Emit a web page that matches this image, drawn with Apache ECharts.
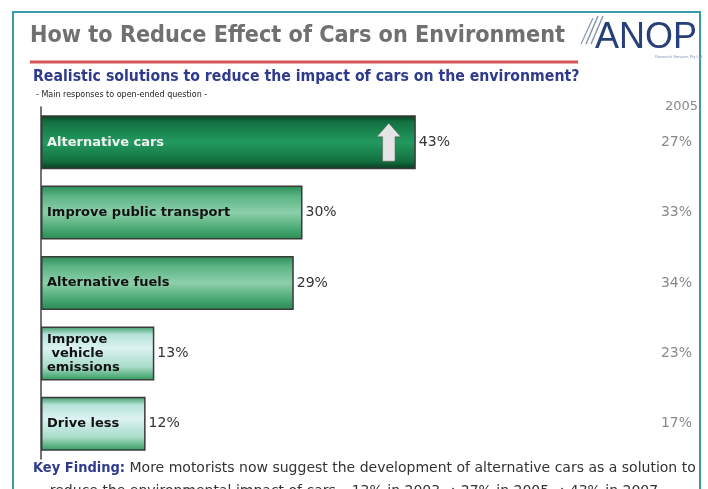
<!DOCTYPE html>
<html><head><meta charset="utf-8">
<script src="https://cdn.jsdelivr.net/npm/echarts@6/dist/echarts.min.js"></script>
<style>html,body{margin:0;padding:0;background:#fff}#c{width:708px;height:489px}</style>
</head><body><div id="c"></div>
<script>
var categories = ['Alternative cars', 'Improve public transport', 'Alternative fuels', 'Improve\n vehicle\nemissions', 'Drive less'];
var values2007 = [43, 30, 29, 13, 12];
var values2005 = [27, 33, 34, 23, 17];
var prevYearLabel = '2005';

function grad(stops) {
  return new echarts.graphic.LinearGradient(0, 0, 0, 1, stops.map(function (s) { return { offset: s[0], color: s[1] }; }));
}
var darkG = grad([[0, '#0a3a20'], [0.12, '#137040'], [0.5, '#229a5f'], [0.85, '#137040'], [1, '#0a3a20']]);
var midG = grad([[0, '#2a8c55'], [0.2, '#5cb585'], [0.5, '#8ccfaa'], [0.85, '#3fa26a'], [1, '#2a8a53']]);
var paleG = grad([[0, '#3a9a66'], [0.15, '#b5e2d8'], [0.4, '#dcf2f2'], [0.75, '#a8dcc8'], [1, '#2f9a5c']]);
var fills = [darkG, midG, midG, paleG, paleG];
var COND = '"DejaVu Sans Condensed", "DejaVu Sans"';

var chart = echarts.init(document.getElementById('c'));
chart.setOption({
  animation: false,
  backgroundColor: '#fff',
  title: [
    { text: 'How to Reduce Effect of Cars on Environment', left: 25, top: 19, padding: 5,
      textStyle: { fontFamily: COND, fontWeight: 'bold', fontSize: 23.2, color: '#707070' } },
    { text: 'ANOP', left: 590, top: 15,
      textStyle: { fontFamily: 'Liberation Sans', fontWeight: 'normal', fontSize: 36, color: '#27407a' } },
    { text: 'Realistic solutions to reduce the impact of cars on the environment?', left: 28, top: 64,
      textStyle: { fontFamily: COND, fontWeight: 'bold', fontSize: 15.7, color: '#2e3a8c' } },
    { text: '- Main responses to open-ended question -', left: 31, top: 86,
      textStyle: { fontFamily: 'DejaVu Sans', fontWeight: 'normal', fontSize: 8, color: '#222' } },
    { text: prevYearLabel, left: 660, top: 95,
      textStyle: { fontFamily: 'DejaVu Sans', fontWeight: 'normal', fontSize: 13, color: '#888' } },
    { text: '{k|Key Finding:} More motorists now suggest the development of alternative cars as a solution to', left: 28, top: 456,
      textStyle: { fontFamily: 'DejaVu Sans', fontWeight: 'normal', fontSize: 14, color: '#333',
        rich: { k: { fontFamily: COND, fontWeight: 'bold', fontSize: 14.5, color: '#2e3a8c' } } } },
    { text: 'reduce the environmental impact of cars \u2013 13% in 2003 \u2192 27% in 2005 \u2192 43% in 2007', left: 'center', top: 479,
      textStyle: { fontFamily: 'DejaVu Sans', fontWeight: 'normal', fontSize: 14, color: '#333' } }
  ],
  graphic: [
    { type: 'rect', shape: { x: 13, y: 12, width: 687, height: 490 }, style: { fill: 'none', stroke: '#3a9aa8', lineWidth: 2 }, silent: true },
    { type: 'line', shape: { x1: 30, y1: 62, x2: 578, y2: 62 }, style: { stroke: '#d9545a', lineWidth: 3 }, silent: true },
    { type: 'text', left: 655, top: 55, style: { text: 'Research Services Pty Ltd', fontSize: 4, fill: '#8090b0' }, silent: true },
    { type: 'line', shape: { x1: 586, y1: 44, x2: 598, y2: 16 }, style: { stroke: '#8a96ae', lineWidth: 1.5 }, silent: true },
    { type: 'line', shape: { x1: 591, y1: 44, x2: 603, y2: 16 }, style: { stroke: '#8a96ae', lineWidth: 1.5 }, silent: true },
    { type: 'line', shape: { x1: 581, y1: 44, x2: 593, y2: 18 }, style: { stroke: '#8a96ae', lineWidth: 1.2 }, silent: true }
  ],
  grid: { left: 41, right: 144, top: 107, bottom: 30 },
  xAxis: { type: 'value', min: 0, max: 60, show: false },
  yAxis: [
    { type: 'category', inverse: true, data: categories,
      axisLine: { show: true, lineStyle: { color: '#444', width: 1.5 } },
      axisTick: { show: false }, axisLabel: { show: false } },
    { type: 'category', inverse: true, position: 'right', offset: 128,
      data: values2005.map(function (v) { return v + '%'; }),
      axisLine: { show: false }, axisTick: { show: false },
      axisLabel: { align: 'right', margin: 0, fontFamily: 'DejaVu Sans', fontSize: 14, color: '#888' } }
  ],
  series: [
    { type: 'bar', yAxisIndex: 0, barWidth: 54,
      data: values2007.map(function (v, i) {
        return { value: v, itemStyle: { color: fills[i] },
          label: { color: i === 0 ? '#f0f0f0' : '#111' } };
      }),
      itemStyle: { borderColor: '#3a3a3a', borderWidth: 1.5 },
      label: { show: true, position: 'insideLeft', offset: [1, 0], formatter: function (p) { return categories[p.dataIndex]; },
        fontFamily: 'DejaVu Sans', fontWeight: 'bold', fontSize: 13, lineHeight: 14 },
      markPoint: {
        symbol: 'path://M5,0 L10,5 L7.6,5 L7.6,14 L2.4,14 L2.4,5 L0,5 Z',
        symbolSize: [24, 38], symbolKeepAspect: false,
        itemStyle: { color: '#e4e4e4', borderColor: '#555', borderWidth: 0.5 },
        label: { show: false },
        data: [{ coord: [39.9, categories[0]] }]
      }
    },
    { type: 'bar', yAxisIndex: 0, barWidth: 54, barGap: '-100%', silent: true,
      data: values2007,
      itemStyle: { color: 'transparent' },
      label: { show: true, position: 'right', distance: 3, formatter: '{c}%',
        fontFamily: 'DejaVu Sans', fontSize: 14, color: '#333' } }
  ]
});
</script></body></html>
